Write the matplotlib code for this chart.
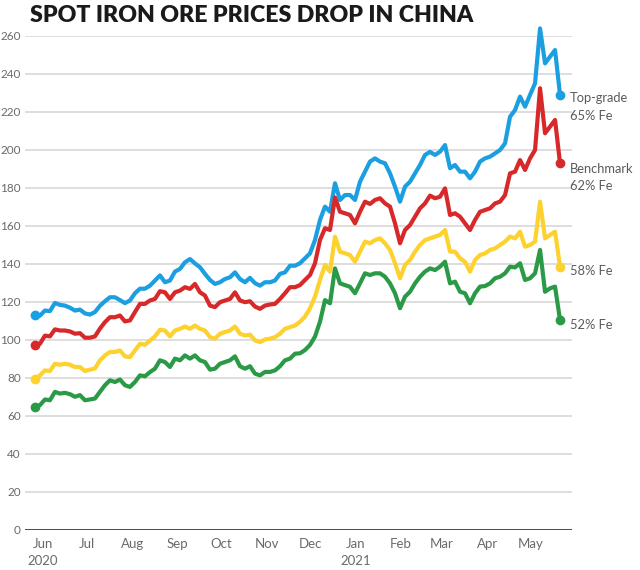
import numpy as np
import pandas as pd
import matplotlib
matplotlib.use("Agg")
import matplotlib.pyplot as plt
import matplotlib.dates as mdates
import matplotlib.transforms as mtransforms

plt.rcParams['font.family'] = ['Lato', 'DejaVu Sans']

# ---- data ----
start_date = "2020-05-26 12:00"
end_date = "2021-05-20 22:00"

top_grade_65 = [113.4, 112.8, 115.5, 115.2, 119.5, 118.5, 118.1, 117, 115.5, 116, 114, 113.4, 114.7, 118, 120.4,
                122.5, 122.5, 121, 119.4, 120.8, 124.6, 127, 127, 128.6, 131.3, 134, 130.4, 131.3, 136,
                137.4, 140.9, 142.6, 140.3, 138.3, 134.8, 131.6, 129.5, 130.4, 132.1, 133, 135.6, 132.1, 130.4,
                132.7, 129.9, 128.6, 130.4, 130.4, 131.3, 134.8, 135.6, 139.1, 139.1,
                140.4, 143, 145.6, 152.6, 163.2, 170.2, 167.5, 182.5, 173.7, 176.3, 176.3, 173.7, 183.3, 188.6,
                193.9, 195.6, 193.9, 193, 187.7, 180.7, 172.8, 180.7, 183.3, 187.7, 192.1, 197.4,
                199, 197.4, 199.1, 202.6, 190.4, 192.1, 188.6, 188.6, 185.1, 188.6, 193.9, 195.6, 196.5, 198.2,
                200, 203.5, 217.5, 221, 228.1, 222.8, 229, 235.1, 264, 245.6, 249.1, 252.6, 229]

benchmark_62 = [97.2, 98, 102.3, 101.9, 105.6, 105, 105, 104.5, 103.3, 103.6, 101.2, 101.2, 101.9, 106, 109.4,
                112, 112, 112.9, 109.8, 110.3, 114.7, 119, 119, 120.8, 121.6, 125.7, 125.1, 121.6, 125.1,
                126, 127.8, 126.9, 129.5, 125.1, 123.4, 118.1, 117.3, 119.9, 120.8, 121.6, 125.1, 120.8, 119.9,
                120.4, 117.6, 116.4, 118.1, 118.7, 119, 121.6, 124.6, 127.8, 127.8,
                128.9, 131.6, 134.2, 140.4, 152.6, 158.8, 157.9, 175, 167.5, 166.7, 165.8, 161.4, 167.5, 172.8,
                171.6, 173.7, 174.6, 171.9, 170.2, 161.4, 150.9, 157.9, 160.5, 164.9, 169.3, 171.9,
                176, 174.6, 175.4, 179.8, 165.8, 166.7, 164.9, 161.4, 157.9, 163.2, 167.5, 168.4, 169.3, 171.9,
                172.8, 176.3, 187.7, 188.6, 194.7, 189.5, 195.6, 200, 232.5, 208.8, 212.3, 215.8, 193]

fe_58 = [79.7, 81.4, 84, 83.7, 87.5, 87, 87.5, 87, 85.8, 85.8, 83.7, 84.4, 85, 89.3, 91.9,
         93.7, 93.7, 94.5, 91.4, 91, 94.5, 98, 97.5, 99.7, 101.9, 105.4, 105, 101.9, 105,
         105.9, 107.1, 105.9, 107.6, 105.9, 105, 101.5, 100.7, 103.3, 104.2, 105, 107.1, 103.3, 102.4,
         102.8, 99.8, 98.9, 100.3, 100.7, 101.5, 103.3, 105.9, 106.8, 107.6,
         109.6, 112.3, 116.7, 122.8, 131.6, 139.5, 136, 154.4, 146.5, 145.6, 144.7, 141.2, 146.5, 151.8,
         150.9, 152.6, 153.5, 150.9, 147.4, 140.4, 132.5, 139.5, 142.1, 146.5, 150, 152.6,
         153.5, 154.4, 155.3, 157.9, 146.5, 146.5, 143, 141.2, 136, 142.1, 144.7, 145.6, 147.4, 148.2,
         150, 151.8, 154.4, 153.5, 157, 149.1, 150, 151.8, 172.8, 153.5, 155.3, 157, 138.6]

fe_52 = [64.8, 65.7, 68.7, 68.3, 72.7, 71.8, 72.2, 71.5, 70.1, 71, 68.3, 68.7, 69.2, 72.7, 76.2,
         78.8, 77.9, 79.2, 76.2, 75.3, 77.9, 81.4, 80.9, 83.1, 84.9, 89.3, 88.4, 85.8, 90.2,
         89.3, 91.9, 90.2, 91.9, 89.3, 88.4, 84.4, 84.9, 87.5, 88.4, 89.3, 91.4, 86.2, 84.9,
         86.2, 82.3, 81.4, 83.2, 83.2, 84, 86.2, 89.3, 90.2, 92.8,
         93, 94.7, 97.4, 101.8, 109.6, 121, 119.3, 137.7, 129.8, 128.9, 128, 124.6, 129.8, 135.1,
         134.2, 135.1, 135.1, 133.3, 129.8, 124.6, 116.7, 122.8, 125.4, 129.8, 133.3, 136,
         137.7, 136.8, 138.6, 141.2, 129.8, 130.7, 125.4, 124.6, 119.3, 124.6, 128.1, 128.4, 129.8, 132.5,
         133.3, 135.1, 138.6, 138.2, 140.4, 131.6, 132.5, 135.1, 147.4, 125.4, 127.2, 128.1, 110.5]

series_labels = ["Top-grade\n65% Fe", "Benchmark\n62% Fe", "58% Fe", "52% Fe"]
series_colors = ["#1c9fe0", "#d7292a", "#fdd12e", "#2b9a47"]
label_y = [222.5, 185.5, 136.3, 107.9]

y_ticks = list(range(0, 261, 20))
month_starts = ["2020-06-01", "2020-07-01", "2020-08-01", "2020-09-01", "2020-10-01", "2020-11-01",
                "2020-12-01", "2021-01-01", "2021-02-01", "2021-03-01", "2021-04-01", "2021-05-01"]
month_labels = ["Jun\n2020", "Jul", "Aug", "Sep", "Oct", "Nov", "Dec", "Jan\n2021", "Feb", "Mar", "Apr", "May"]

# ---- figure ----
fig = plt.figure(figsize=(6.4, 5.7), dpi=100)
ax = fig.add_axes([25 / 640, 40 / 570, (572 - 25) / 640, (530 - 36) / 570])

n = len(top_grade_65)
t0 = mdates.date2num(pd.Timestamp(start_date))
t1 = mdates.date2num(pd.Timestamp(end_date))
x = np.linspace(t0, t1, n)

for vals, col in zip([top_grade_65, benchmark_62, fe_58, fe_52], series_colors):
    ax.plot(x, vals, color=col, lw=3.0, solid_joinstyle='round', solid_capstyle='round',
            clip_on=False, zorder=3)
    ax.plot([x[0], x[-1]], [vals[0], vals[-1]], 'o', color=col, ms=6, clip_on=False, zorder=4)

jun1 = mdates.date2num(pd.Timestamp("2020-06-01"))
ax.set_xlim(jun1 - 12.3, jun1 + 362.1)
ax.set_ylim(0, 260)

ax.set_yticks(y_ticks)
ax.set_yticklabels([str(v) for v in y_ticks])
ax.set_xticks([mdates.date2num(pd.Timestamp(d)) for d in month_starts])
ax.set_xticklabels(month_labels)

ax.grid(axis='y', color='#d4d4d4', lw=1.1, zorder=0)
ax.grid(axis='x', visible=False)
ax.axhline(0, color='#333333', lw=1.2, zorder=2)
for s in ax.spines.values():
    s.set_visible(False)
ax.tick_params(axis='y', length=0, pad=3, labelsize=8.5, labelcolor='#6a6a6a')
ax.tick_params(axis='x', length=0, pad=6, labelsize=9.5, labelcolor='#6a6a6a')
for lab in ax.get_xticklabels():
    lab.set_linespacing(1.5)

trans = mtransforms.blended_transform_factory(ax.transAxes, ax.transData)
for lab, yv in zip(series_labels, label_y):
    ax.text((570 - 25) / (572 - 25), yv, lab, transform=trans, ha='left', va='center',
            fontsize=9.3, color='#5a5a5a', linespacing=1.55, clip_on=False)

fig.text(30 / 640, 1 - 5 / 570, "SPOT IRON ORE PRICES DROP IN CHINA", ha='left', va='top',
         fontsize=16.7, fontweight='heavy', color='#1a1a1a')

fig.savefig("out.png", dpi=100)
